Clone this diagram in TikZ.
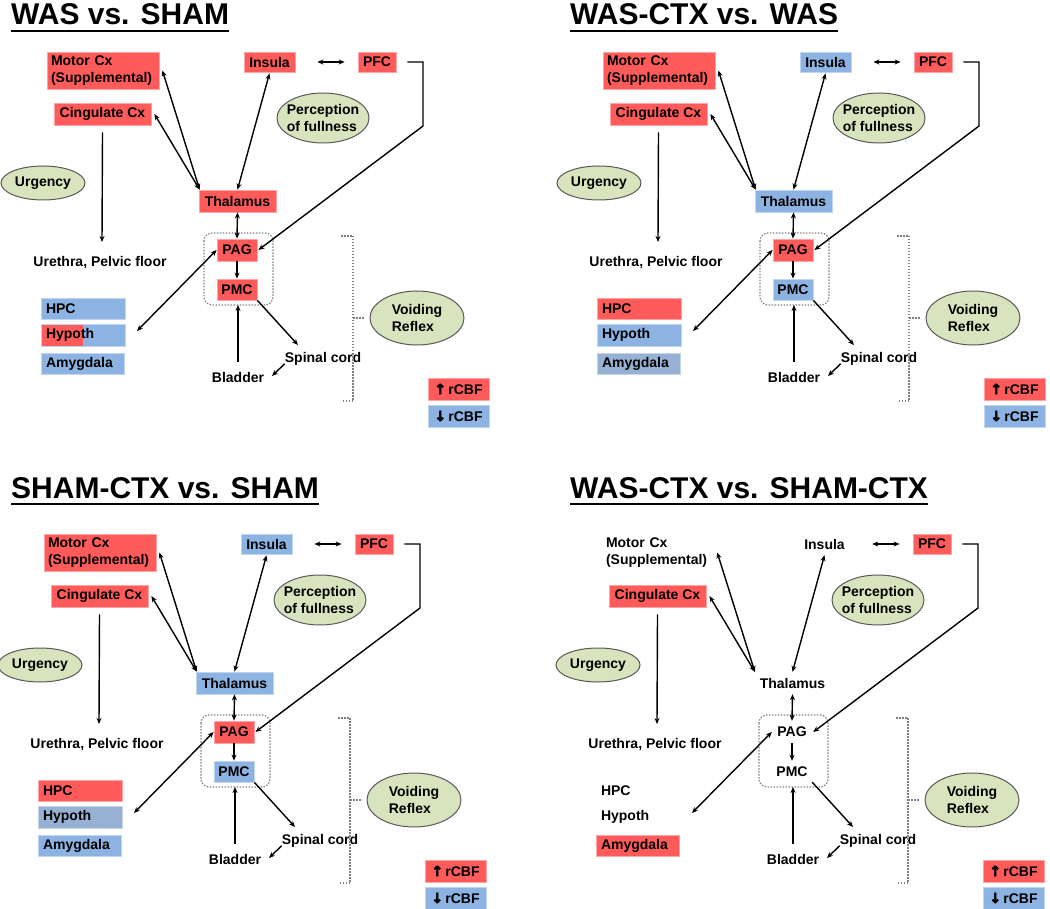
\documentclass[tikz,border=0pt]{standalone}
\usepackage{fontspec}
\setmainfont{Liberation Sans}
\newfontfamily\symfont[FakeBold=4]{DejaVu Sans}
\usetikzlibrary{arrows.meta,shapes.geometric}
\definecolor{bred}{HTML}{FF5B5B}
\definecolor{bblue}{HTML}{8DB3E2}
\definecolor{bgblue}{HTML}{97B1D4}
\definecolor{egreen}{HTML}{D7E4BD}
\tikzset{
 every node/.style={font=\fontsize{14}{17}\selectfont\bfseries, inner sep=0pt},
 redbox/.style={fill=bred, draw=bred!55!white, line width=0.8pt},
 bluebox/.style={fill=bblue, draw=bblue!55!white, line width=0.8pt},
 gbluebox/.style={fill=bgblue, draw=bgblue!55!white, line width=0.8pt},
 plainbox/.style={},
 splitbox/.style={bluebox, path picture={\fill[bred] (path picture bounding box.north west) rectangle ([xshift=42pt]path picture bounding box.south west);}},
 arr/.style={line width=1.4pt, -{Stealth[length=6pt,width=5pt]}},
 dbl/.style={line width=1.4pt, {Stealth[length=6pt,width=5pt]}-{Stealth[length=6pt,width=5pt]}},
 oval/.style={ellipse, fill=egreen, draw=black!65, line width=1pt},
 dots/.style={draw=black!50, line width=1.2pt, dash pattern=on 1.5pt off 1.5pt},
 ttl/.style={font=\fontsize{30}{36}\selectfont\bfseries, anchor=base west},
}
\newcommand\drawpanel[3]{%
\begin{scope}[shift={(#2,#3)}]
 \node[cmotor, minimum width=112pt, minimum height=37pt, text width=104pt, align=left] (#1motor) at (103,70.5) {Motor Cx\\(Supplemental)};
 \node[cinsula, minimum width=51pt, minimum height=20pt] (#1insula) at (269.5,62) {Insula};
 \node[cpfc, minimum width=38pt, minimum height=20pt] (#1pfc) at (377,62) {PFC};
 \node[ccing, minimum width=97pt, minimum height=22pt] (#1cing) at (102.5,114) {Cingulate Cx};
 \node[cthal, minimum width=77pt, minimum height=22pt] (#1thal) at (237.5,201) {Thalamus};
 \node[cpag, minimum width=40pt, minimum height=22pt] (#1pag) at (237,250) {PAG};
 \node[cpmc, minimum width=40pt, minimum height=21pt] (#1pmc) at (237,289.5) {PMC};
 \node[chpc, minimum width=84pt, minimum height=21pt, text width=74pt, align=left] (#1hpc) at (83,308.5) {HPC};
 \node[chyp, minimum width=84pt, minimum height=22pt, text width=74pt, align=left] (#1hyp) at (83,335) {Hypoth};
 \node[camy, minimum width=83pt, minimum height=21pt, text width=73pt, align=left] (#1amy) at (82.5,363.5) {Amygdala};
 \node (#1ure) at (100,263) {Urethra, Pelvic floor};
 \node (#1spin) at (323,359) {Spinal cord};
 \node (#1blad) at (238,377) {Bladder};
 \node[oval, minimum width=92pt, minimum height=50pt] (#1perc) at (323,118) {};
 \node[align=left] (#1perct) at (#1perc) {Perception\\of fullness};
 \node[oval, minimum width=84pt, minimum height=34pt] (#1urg) at (43,183) {};
 \node (#1urgt) at (#1urg) {Urgency};
 \node[oval, minimum width=94pt, minimum height=54pt] (#1void) at (417,318) {};
 \node[align=left] (#1voidt) at (#1void) {Voiding\\Reflex};
 \node[redbox, minimum width=61pt, minimum height=22pt] (#1up) at (458.5,389) {{\symfont ↑}\,rCBF};
 \node[bluebox, minimum width=61pt, minimum height=22pt] (#1dn) at (458.5,416) {{\symfont ↓}\,rCBF};
 \draw[dots, rounded corners=8pt] (204,233) rectangle (273,305);
 \draw[dots] (341,236) -- (353,236) -- (353,401) -- (341,401);
 \draw[dots] (353,318) -- (365,318);
 \coordinate (#1k1) at (423,62);
 \coordinate (#1k2) at (423,126);
 \coordinate (#1ureIn) at (102,242);
 \coordinate (#1lim) at (137,331);
 \coordinate (#1pmcIn) at (238,305);
 \coordinate (#1spIn) at (298,345);
 \coordinate (#1blIn) at (272,376);
 \draw[dbl] ([xshift=1pt]#1thal.north west) -- ([xshift=3pt]#1motor.east);
 \draw[dbl] ([xshift=1pt]#1thal.north west) -- ([xshift=3pt]#1cing.east);
 \draw[dbl] (#1thal.north) -- ([yshift=-1pt]#1insula.south);
 \draw[dbl] ([xshift=22pt]#1insula.east) -- ([xshift=-13pt]#1pfc.west);
 \draw[arr] ([xshift=11pt]#1pfc.east) -- (#1k1) -- (#1k2) -- ([xshift=1pt]#1pag.east);
 \draw[dbl] (#1thal.south) -- (#1pag.north);
 \draw[arr] (#1pag.south) -- (#1pmc.north);
 \draw[arr] ([yshift=-7pt]#1cing.south) -- (#1ureIn);
 \draw[dbl] (#1pag.west) -- (#1lim);
 \draw[arr] ([yshift=10pt]#1blad.north) -- (#1pmcIn);
 \draw[arr] (#1pmc.south east) -- (#1spIn);
 \draw[arr] ([yshift=2pt]#1spin.south west) -- (#1blIn);
\end{scope}}
\begin{document}
\begin{tikzpicture}[x=1pt,y=-1pt]
\useasboundingbox (0,0) rectangle (1050,909);
\node[ttl] (t1) at (11,25) {WAS vs. SHAM};
\node[ttl] (t2) at (570,25) {WAS-CTX vs. WAS};
\node[ttl] (t3) at (11,498) {SHAM-CTX vs. SHAM};
\node[ttl] (t4) at (570,498) {WAS-CTX vs. SHAM-CTX};
\foreach \t in {t1,t2,t3,t4}{\draw[line width=2pt] ([yshift=-6pt]\t.base west) -- ([yshift=-6pt]\t.base east);}
% panel 1
\tikzset{cmotor/.style=redbox, cinsula/.style=redbox, cpfc/.style=redbox, ccing/.style=redbox,
 cthal/.style=redbox, cpag/.style=redbox, cpmc/.style=redbox, chpc/.style=bluebox,
 chyp/.style=splitbox, camy/.style=bluebox}
\drawpanel{a}{0}{0}
% panel 2
\tikzset{cmotor/.style=redbox, cinsula/.style=bluebox, cpfc/.style=redbox, ccing/.style=redbox,
 cthal/.style=bluebox, cpag/.style=redbox, cpmc/.style=bluebox, chpc/.style=redbox,
 chyp/.style=bluebox, camy/.style=gbluebox}
\drawpanel{b}{556}{0}
% panel 3
\tikzset{cmotor/.style=redbox, cinsula/.style=bluebox, cpfc/.style=redbox, ccing/.style=redbox,
 cthal/.style=bluebox, cpag/.style=redbox, cpmc/.style=bluebox, chpc/.style=redbox,
 chyp/.style=gbluebox, camy/.style=bluebox}
\drawpanel{c}{-3}{482}
% panel 4
\tikzset{cmotor/.style=plainbox, cinsula/.style=plainbox, cpfc/.style=redbox, ccing/.style=redbox,
 cthal/.style=plainbox, cpag/.style=plainbox, cpmc/.style=plainbox, chpc/.style=plainbox,
 chyp/.style=plainbox, camy/.style=redbox}
\drawpanel{d}{555}{482}
\end{tikzpicture}
\end{document}
